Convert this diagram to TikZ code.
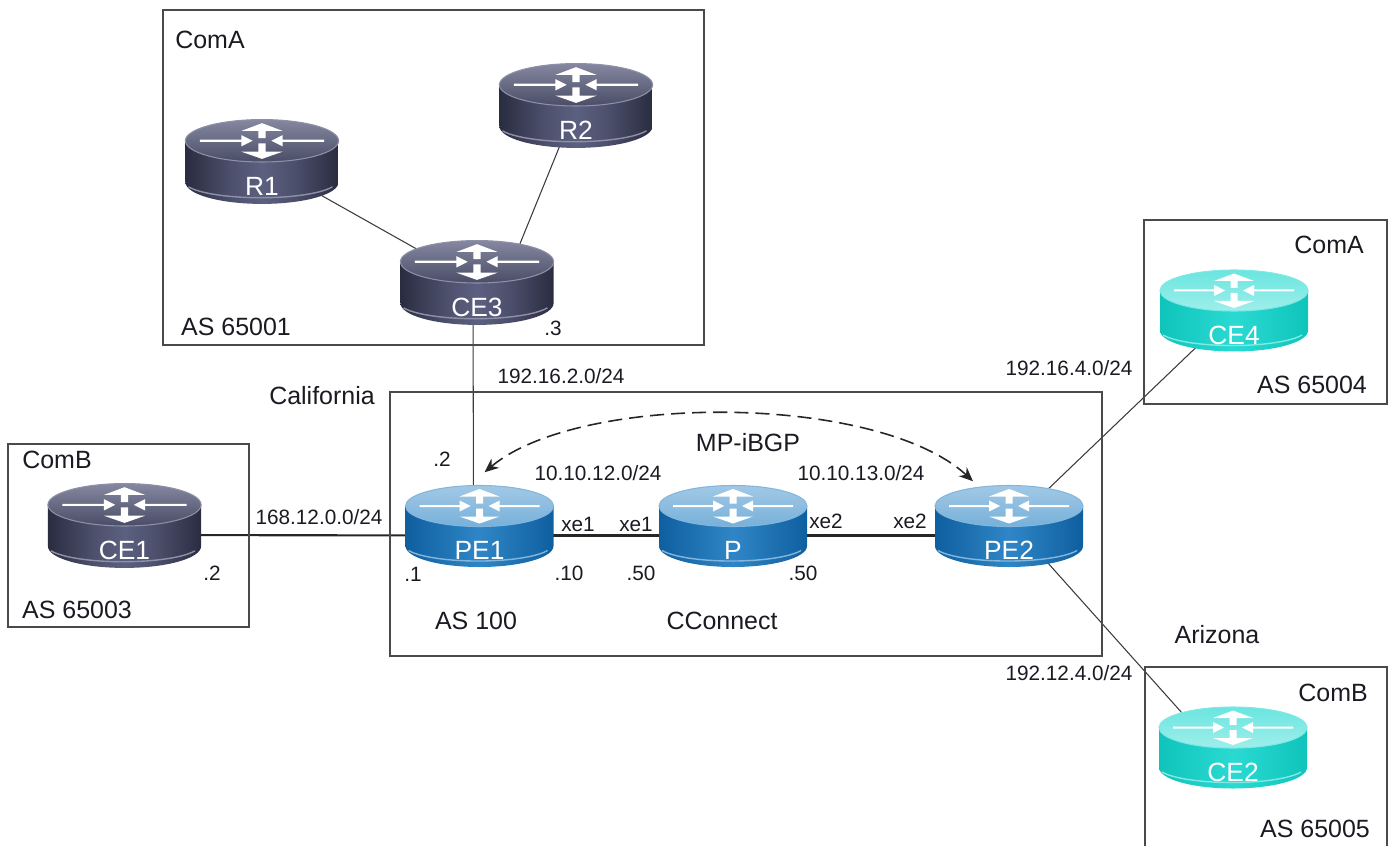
\documentclass[tikz,border=0pt]{standalone}
\usepackage{fontspec}
\setmainfont{Liberation Sans}
\usetikzlibrary{arrows.meta,backgrounds,positioning}

\definecolor{boxgray}{HTML}{4A4A4A}
\definecolor{txtblack}{HTML}{1A1A22}
\pgfdeclarehorizontalshading{darkshade}{100bp}{color(0bp)=(white!0!black);
  color(0bp)=(black!80!blue!60!white);color(25bp)=(black!80!blue!60!white);
  color(38bp)=(black!75!blue!70!white);color(50bp)=(black!50!blue!45!white);
  color(62bp)=(black!75!blue!70!white);color(75bp)=(black!80!blue!60!white);color(100bp)=(black!80!blue!60!white)}
\definecolor{bluea}{HTML}{0F5F9F}
\definecolor{blueb}{HTML}{2F86C6}
\definecolor{tealb}{HTML}{2ADAD2}
\definecolor{teala}{HTML}{0FC4BB}
\definecolor{darka}{HTML}{2A2C40}
\definecolor{darkb}{HTML}{5C6080}
\pgfdeclarehorizontalshading{darkshade}{100bp}{color(0bp)=(darka);color(25bp)=(darka);
  color(40bp)=(darkb!70!darka);color(50bp)=(darkb);color(60bp)=(darkb!70!darka);color(75bp)=(darka);color(100bp)=(darka)}
\pgfdeclarehorizontalshading{blueshade}{100bp}{color(0bp)=(bluea);color(25bp)=(bluea);
  color(50bp)=(blueb);color(75bp)=(bluea);color(100bp)=(bluea)}
\pgfdeclarehorizontalshading{tealshade}{100bp}{color(0bp)=(teala);color(25bp)=(teala);
  color(50bp)=(tealb);color(75bp)=(teala);color(100bp)=(teala)}

\tikzset{
  dark top/.style={top color=darkb!75!white,bottom color=darkb!80!black},
  dark side/.style={shading=darkshade},
  dark rim/.style={draw=darkb!70!white},
  dark size/.style={scale=1.035},
  blue top/.style={top color=blueb!45!white,bottom color=blueb!65!white},
  blue side/.style={shading=blueshade},
  blue rim/.style={draw=blueb!60!white},
  blue size/.style={scale=1},
  teal top/.style={top color=tealb!70!white,bottom color=tealb!45!white},
  teal side/.style={shading=tealshade},
  teal rim/.style={draw=tealb!60!white},
  teal size/.style={scale=1},
  routernode/.style={inner sep=0pt,minimum width=1.48cm,minimum height=0.81cm},
  routertext/.style={inner sep=0pt,text=white,font=\fontsize{7.5}{9}\selectfont},
  biglabel/.style={inner sep=0pt,text=txtblack,font=\fontsize{7.1}{9}\selectfont},
  smalllabel/.style={inner sep=0pt,text=txtblack,font=\fontsize{5.9}{7}\selectfont},
  areabox/.style={draw=boxgray,line width=0.35pt},
  link/.style={draw=boxgray!80!black,line width=0.3pt},
  corelink/.style={draw=black!85,line width=0.6pt},
  bgpsession/.style={draw=black!85,line width=0.45pt,dashed,dash pattern=on 4pt off 2pt,{Stealth[length=4pt,width=3.4pt]}-{Stealth[length=4pt,width=3.4pt]}},
}

% name, x, y, text, kind
\newcommand{\router}[5]{
  \node[routernode,#5 size] (#1) at (#2,#3) {};
  \begin{scope}[shift={(#2,#3)},#5 size]
    \shade[#5 side] (-74,-20.5) -- (-74,19.5) arc[start angle=180,end angle=0,x radius=74,y radius=21] -- (74,-20.5) -- cycle;
    \draw[#5 rim,line width=0.4pt] (-71,24) arc[start angle=160,end angle=20,x radius=74,y radius=16];
    \shade[#5 top,#5 rim,line width=0.3pt] (0,-20.5) ellipse[x radius=74,y radius=20.5];
    \fill[white] (-60,-21.5) -- (-20,-21.5) -- (-20,-26) -- (-9,-20.5) -- (-20,-15) -- (-20,-19.5) -- (-60,-19.5) -- cycle;
    \fill[white] (60,-21.5) -- (20,-21.5) -- (20,-26) -- (9,-20.5) -- (20,-15) -- (20,-19.5) -- (60,-19.5) -- cycle;
    \fill[white] (-3.5,-23) -- (-3.5,-30) -- (-20,-30) -- (0,-37.5) -- (20,-30) -- (3.5,-30) -- (3.5,-23) -- cycle;
    \fill[white] (-3.5,-18) -- (-3.5,-10) -- (-20,-10) -- (0,-3) -- (20,-10) -- (3.5,-10) -- (3.5,-18) -- cycle;
  \end{scope}
  \node[routertext] (#1-text) at ([shift={(0,24)}]#1.center) {#4};
}

\begin{document}
\begin{tikzpicture}[x=0.01cm,y=-0.01cm]
  \useasboundingbox (0,0) rectangle (1392,846);

  \draw[areabox] (163,10) rectangle (704,345);
  \draw[areabox] (390,392) rectangle (1102,656);
  \draw[areabox] (8,444) rectangle (249,627);
  \draw[areabox] (1144,220) rectangle (1387,404);
  \draw[areabox] (1145,846) -- (1145,667) -- (1387,667) -- (1387,846);

  \router{R1}{262}{162}{R1}{dark}
  \router{R2}{576}{106}{R2}{dark}
  \router{CE3}{477}{283}{CE3}{dark}
  \router{CE1}{124.5}{526}{CE1}{dark}
  \router{PE1}{479.5}{526.5}{PE1}{blue}
  \router{P}{733}{526.5}{P}{blue}
  \router{PE2}{1009}{526.5}{PE2}{blue}
  \router{CE4}{1234}{311}{CE4}{teal}
  \router{CE2}{1233}{748}{CE2}{teal}

  \begin{scope}[on background layer]
    \draw[link] (R1.center) -- (CE3.center);
    \draw[link] (R2.center) -- ([shift={(27,0)}]CE3.center);
    \draw[link] ([shift={(-4,0)}]CE3.center) -- ([shift={(-6,0)}]PE1.center);
    \draw[corelink] ([shift={(0,9)}]CE1.center) -- ([shift={(0,9)}]PE1.center);
    \draw[corelink] ([shift={(0,9)}]PE1.center) -- ([shift={(0,9)}]P.center);
    \draw[corelink] ([shift={(0,9)}]P.center) -- ([shift={(0,9)}]PE2.center);
    \draw[link] (PE2.center) -- (CE4.center);
    \draw[link] ([shift={(0,-7)}]PE2.center) -- ([shift={(0,22)}]CE2.center);
  \end{scope}

  \coordinate (bgpleft) at ([shift={(5,-13)}]PE1.north);
  \coordinate (bgpright) at ([shift={(-36,-4)}]PE2.north);
  \draw[bgpsession] (bgpleft) .. controls +(95,-80) and +(-95,-88) .. (bgpright);

  \node[biglabel] (coma1) at (210,40) {ComA};
  \node[biglabel] (as65001) at (236,327) {AS 65001};
  \node[smalllabel] (dot3) at (553,328) {.3};
  \node[smalllabel] (net162) at (561,376) {192.16.2.0/24};
  \node[biglabel] (california) at (322,396) {California};
  \node[smalllabel] (dot2a) at (442,459) {.2};
  \node[smalllabel] (net1012) at (598,473) {10.10.12.0/24};
  \node[biglabel] (mpibgp) at (748,443) {MP-iBGP};
  \node[smalllabel] (net1013) at (861,473) {10.10.13.0/24};
  \node[smalllabel] (xe1a) at (578,524) {xe1};
  \node[smalllabel] (xe1b) at (636,524) {xe1};
  \node[smalllabel] (xe2a) at (826,521) {xe2};
  \node[smalllabel] (xe2b) at (910,521) {xe2};
  \node[smalllabel] (dot1) at (413,574) {.1};
  \node[smalllabel] (dot10) at (569,573) {.10};
  \node[smalllabel] (dot50a) at (641,573) {.50};
  \node[smalllabel] (dot50b) at (803,573) {.50};
  \node[biglabel] (as100) at (476,621) {AS 100};
  \node[biglabel] (cconnect) at (722,621) {CConnect};
  \node[smalllabel] (net168) at (319,517) {168.12.0.0/24};
  \node[biglabel] (comb1) at (57,460) {ComB};
  \node[biglabel] (as65003) at (77,610) {AS 65003};
  \node[smalllabel] (dot2b) at (212,573) {.2};
  \node[biglabel] (coma2) at (1329,245) {ComA};
  \node[biglabel] (as65004) at (1312,385) {AS 65004};
  \node[smalllabel] (net164) at (1069,368) {192.16.4.0/24};
  \node[smalllabel] (net124) at (1069,673) {192.12.4.0/24};
  \node[biglabel] (arizona) at (1217,635) {Arizona};
  \node[biglabel] (comb2) at (1333,693) {ComB};
  \node[biglabel] (as65005) at (1315,829) {AS 65005};
\end{tikzpicture}
\end{document}
